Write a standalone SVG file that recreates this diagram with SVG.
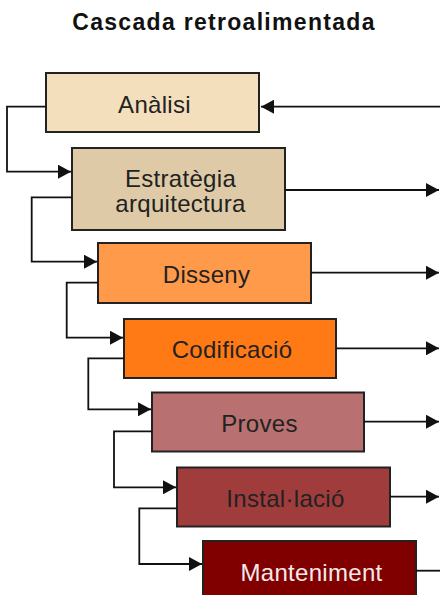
<svg xmlns="http://www.w3.org/2000/svg" width="440" height="595" viewBox="0 0 440 595">
  <defs>
    <marker id="ah" markerUnits="userSpaceOnUse" markerWidth="13" markerHeight="14" refX="13" refY="7" orient="auto" viewBox="0 0 13 14">
      <path d="M0,0 L13,7 L0,14 z" fill="#111"/>
    </marker>
  </defs>
  <style>
    .box { stroke: #222; stroke-width: 2; }
    .lbl { font-family: "Liberation Sans", Arial, sans-serif; font-size: 24px; letter-spacing: 0.3px; fill: #222; text-anchor: middle; }
    .title { font-family: "Liberation Sans", Arial, sans-serif; font-size: 23px; font-weight: bold; letter-spacing: 1.3px; fill: #111; text-anchor: middle; }
    .conn { fill: none; stroke: #111; stroke-width: 1.8; }
  </style>
  <rect width="440" height="595" fill="#ffffff"/>
  <text class="title" x="224" y="30">Cascada retroalimentada</text>

  <g id="analisi">
    <rect class="box" x="46" y="73" width="213" height="59" fill="#F4DFBD"/>
    <text class="lbl" x="154.5" y="112.5">Anàlisi</text>
  </g>
  <g id="estrategia">
    <rect class="box" x="72" y="148" width="213" height="82" fill="#DECAA6"/>
    <text class="lbl" x="180.5" y="186.5">Estratègia</text>
    <text class="lbl" x="180.5" y="212">arquitectura</text>
  </g>
  <g id="disseny">
    <rect class="box" x="98" y="243" width="213" height="60" fill="#FF9A4A"/>
    <text class="lbl" x="206.5" y="283">Disseny</text>
  </g>
  <g id="codificacio">
    <rect class="box" x="124" y="319" width="212" height="59" fill="#FF7A14"/>
    <text class="lbl" x="232" y="358">Codificació</text>
  </g>
  <g id="proves">
    <rect class="box" x="152" y="392.5" width="212" height="59" fill="#B97070"/>
    <text class="lbl" x="259.5" y="432">Proves</text>
  </g>
  <g id="installacio">
    <rect class="box" x="177" y="467.5" width="213" height="59" fill="#A03C3C"/>
    <text class="lbl" x="285.5" y="506.5">Instal·lació</text>
  </g>
  <g id="manteniment">
    <rect class="box" x="203" y="541" width="213" height="60" fill="#800000"/>
    <text class="lbl" x="311.5" y="580.5" style="fill:#f4eaea">Manteniment</text>
  </g>

  <g id="connectors">
    <path class="conn" d="M440,106.7 L261,106.7" marker-end="url(#ah)"/>
    <path class="conn" d="M46,106.7 L7,106.7 L7,171.7 L71,171.7" marker-end="url(#ah)"/>
    <path class="conn" d="M72,197.3 L31.7,197.3 L31.7,261.7 L97,261.7" marker-end="url(#ah)"/>
    <path class="conn" d="M98,282.7 L66.7,282.7 L66.7,337.7 L123,337.7" marker-end="url(#ah)"/>
    <path class="conn" d="M124,358.3 L88.3,358.3 L88.3,409.3 L151,409.3" marker-end="url(#ah)"/>
    <path class="conn" d="M152,431.3 L114,431.3 L114,487.3 L176,487.3" marker-end="url(#ah)"/>
    <path class="conn" d="M177,508.3 L139.3,508.3 L139.3,564 L202,564" marker-end="url(#ah)"/>
    <path class="conn" d="M285,190 L439,190" marker-end="url(#ah)"/>
    <path class="conn" d="M311,272.7 L439,272.7" marker-end="url(#ah)"/>
    <path class="conn" d="M336,348.3 L439,348.3" marker-end="url(#ah)"/>
    <path class="conn" d="M364,421.7 L439,421.7" marker-end="url(#ah)"/>
    <path class="conn" d="M390,496.7 L439,496.7" marker-end="url(#ah)"/>
    <path class="conn" d="M416,570.7 L440,570.7"/>
  </g>
</svg>
